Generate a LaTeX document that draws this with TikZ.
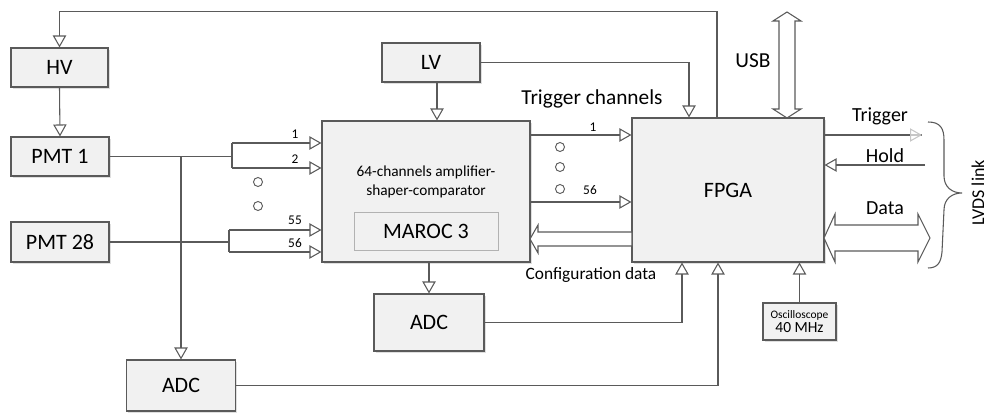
\documentclass[tikz,border=0pt]{standalone}
\usepackage{fontspec}
\setmainfont{Carlito}
\usetikzlibrary{arrows.meta,shadows,calc}
\definecolor{ln}{HTML}{5A5A5A}
\definecolor{bx}{HTML}{F1F1F1}
\tikzset{
  box/.style={draw=ln, line width=0.8pt, fill=bx, inner sep=0pt, align=center,
     drop shadow={opacity=0.25, shadow xshift=1.2pt, shadow yshift=-1.2pt},
     font=\fontsize{16.5}{19}\selectfont},
  arr/.style={draw=ln, line width=0.8pt, -{Triangle[open, length=9pt, width=10pt]}},
  ln/.style={draw=ln, line width=0.8pt},
  fat/.style={draw=ln, line width=0.8pt, fill=white},
  dot/.style={draw=ln, line width=0.7pt, fill=white},
  chn/.style={font=\fontsize{10}{12}\selectfont, inner sep=0pt},
  lbl/.style={font=\fontsize{15}{18}\selectfont, inner sep=0pt}
}
\begin{document}
\begin{tikzpicture}[x=0.75pt, y=-0.75pt]
\useasboundingbox (0,0) rectangle (990,416);
% boxes
\node[box, minimum width=72.75pt, minimum height=29.25pt] (HV) at (59.5,67.5) {HV};
\node[box, minimum width=73.5pt, minimum height=29.25pt] (PMT1) at (60,156.5) {PMT 1};
\node[box, minimum width=73.5pt, minimum height=30pt] (PMT28) at (60,242) {PMT 28};
\node[box, minimum width=73.5pt, minimum height=29.25pt] (LV) at (431,62.5) {LV};
\node[box, minimum width=156pt, minimum height=105.75pt] (MAROC) at (426,191.5) {};
\node[font=\fontsize{11.5}{14}\selectfont, align=center, inner sep=0pt] (MAROCtxt) at (426,182) {64-channels amplifier-\\shaper-comparator};
\node[draw=gray!60, line width=0.6pt, fill=bx, minimum width=108pt, minimum height=28.5pt, inner sep=0pt, font=\fontsize{16.5}{19}\selectfont] (M3) at (426,231) {MAROC 3};
\node[box, minimum width=82.5pt, minimum height=42.75pt] (ADCm) at (429,322.5) {ADC};
\node[box, minimum width=81.75pt, minimum height=38.25pt] (ADCb) at (181,385.5) {ADC};
\node[box, minimum width=144pt, minimum height=108pt] (FPGA) at (728,190) {FPGA};
\node[box, minimum width=54.75pt, minimum height=27.75pt, font=\fontsize{8.6}{11}\selectfont] (OSC) at (799.5,321.5) {Oscilloscope\\[-1pt]{\fontsize{11.6}{13}\selectfont 40 MHz}};

% top loop FPGA -> HV
\draw[arr] ([shift={(-11,0)}]FPGA.north) -- ++(0,-106) -| (HV.north);
\draw[arr] (HV.south) -- (PMT1.north);
% LV
\draw[arr] ([shift={(6,0)}]LV.south) -- ([shift={(6,0)}]LV.south |- MAROC.north);
\draw[arr] (LV.east) -| ([shift={(-39,0)}]FPGA.north);

% PMT 1 channels
\coordinate (s1) at (232,156.5);
\coordinate (c1) at (232,143);
\coordinate (c2) at (232,168);
\draw[ln] (PMT1.east) -- (s1);
\draw[ln] (c1) -- (c2);
\draw[arr] (c1) -- (c1 -| MAROC.west);
\draw[arr] (c2) -- (c2 -| MAROC.west);
\node[chn] (l1) at (295,134) {1};
\node[chn] (l2) at (295,159) {2};
\draw[dot] (258,182) circle (4.5);
\draw[dot] (258,206) circle (4.5);

% PMT 28 channels
\coordinate (s28) at (229,242);
\coordinate (c55) at (229,230);
\coordinate (c56) at (229,252);
\draw[ln] (PMT28.east) -- (s28);
\draw[ln] (c55) -- (c56);
\draw[arr] (c55) -- (c55 -| MAROC.west);
\draw[arr] (c56) -- (c56 -| MAROC.west);
\node[chn] (l55) at (295,220) {55};
\node[chn] (l56) at (295,243) {56};

% branch to bottom ADC
\coordinate (j) at (ADCb.north |- PMT1.east);
\draw[arr] (j) -- (ADCb.north);

% trigger channels
\coordinate (t1) at (530,135);
\coordinate (t56) at (530,202);
\draw[arr] (t1) -- (t1 -| FPGA.west);
\draw[arr] (t56) -- (t56 -| FPGA.west);
\node[chn] (lt1) at (593,127) {1};
\node[chn] (lt56) at (590,190) {56};
\draw[dot] (560,147) circle (4.5);
\draw[dot] (560,167) circle (4.5);
\draw[dot] (560,189) circle (4.5);
\node[lbl, font=\fontsize{16}{19}\selectfont] (trch) at (592,99) {Trigger channels};

% configuration data fat arrow
\draw[fat] (530,239) -- (538,225) -- (538,232) -- (632,232) -- (632,246) -- (538,246) -- (538,253) -- cycle;
\node[lbl, font=\fontsize{13}{16}\selectfont] (cfg) at (591,275) {Configuration data};

% ADC middle
\draw[arr] (ADCm.north |- MAROC.south) -- (ADCm.north);
\draw[arr] (ADCm.east) -| ([shift={(-46,0)}]FPGA.south);
\draw[arr] (ADCb.east) -| ([shift={(-10,0)}]FPGA.south);
\draw[arr] (OSC.north) -- (OSC.north |- FPGA.south);

% USB
\draw[fat] (787,12) -- (801,21) -- (795,21) -- (795,109) -- (801,109) -- (787,118) -- (773,109) -- (779,109) -- (779,21) -- (773,21) -- cycle;
\node[lbl, font=\fontsize{16}{19}\selectfont] (usb) at (753,61) {USB};

% right side
\coordinate (tr) at (922,135);
\draw[ln] (FPGA.east |- tr) -- (tr);
\draw[draw=gray!45, line width=0.8pt, -{Triangle[open, length=9pt, width=10pt]}] ([shift={(-2,0)}]tr) -- (tr);
\node[lbl] (trig) at (880,116) {Trigger};
\coordinate (hd) at (925,165);
\draw[arr] (hd) -- (hd -| FPGA.east);
\node[lbl] (hold) at (885,156) {Hold};
\draw[fat] (824,238) -- (835,214) -- (835,225) -- (918,225) -- (918,214) -- (930,238) -- (918,262) -- (918,251) -- (835,251) -- (835,262) -- cycle;
\node[lbl] (data) at (885,208) {Data};

% brace
\draw[ln] (928,122) .. controls (940,122) and (944,128) .. (944,140) -- (944,176)
   .. controls (944,187) and (952,193) .. (962,193)
   .. controls (952,193) and (944,199) .. (944,210) -- (942,252)
   .. controls (941,262) and (938,268) .. (928,268);
\node[lbl, font=\fontsize{13.5}{16}\selectfont, rotate=90] (lvds) at (978,193) {LVDS link};
\end{tikzpicture}
\end{document}
